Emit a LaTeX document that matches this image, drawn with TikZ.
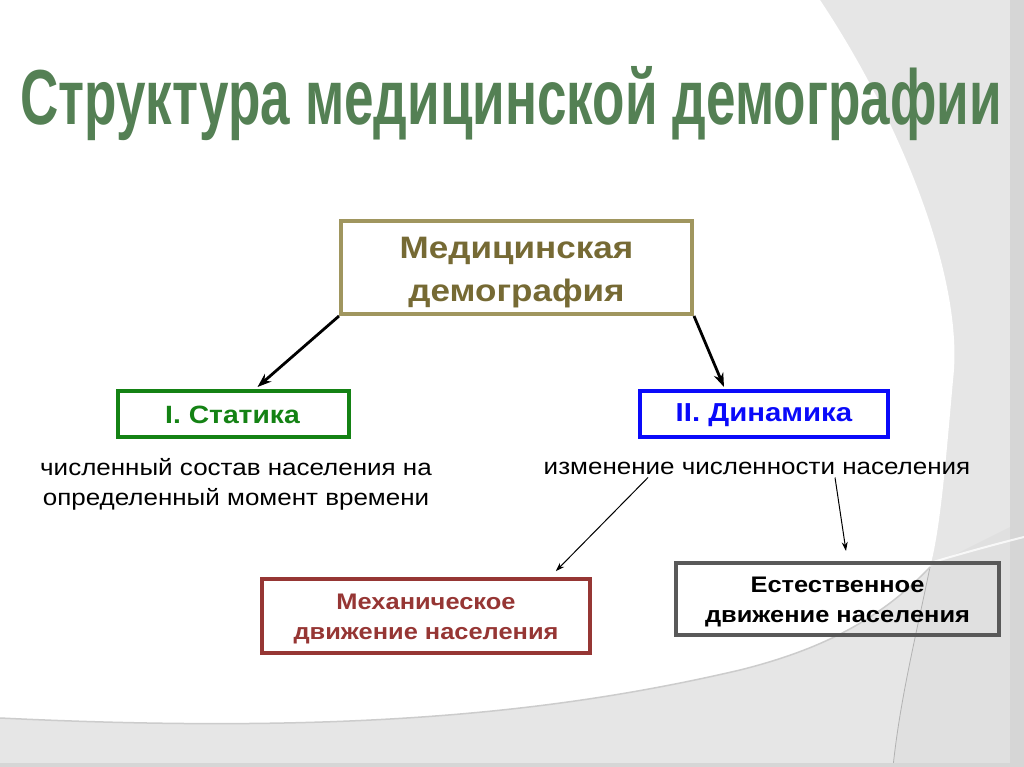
\documentclass[tikz,border=0pt]{standalone}
\usepackage{fontspec}
\setmainfont{Liberation Sans}[FakeStretch=1.13]
\newfontfamily\titlefont{Liberation Sans}
\usetikzlibrary{arrows.meta,calc}
\definecolor{olivebd}{RGB}{160,150,95}
\definecolor{olivetx}{RGB}{118,106,52}
\definecolor{statgreen}{RGB}{20,130,20}
\definecolor{dynblue}{RGB}{10,10,250}
\definecolor{mekhred}{RGB}{150,54,52}
\definecolor{estgray}{RGB}{89,89,89}
\definecolor{titlegreen}{RGB}{84,128,84}
\definecolor{bggray}{RGB}{230,230,230}
\definecolor{bgmid}{RGB}{224,224,224}
\definecolor{bgdark}{RGB}{214,214,214}
\tikzset{
  box/.style={draw, line width=4pt, inner sep=0pt},
  boxtext/.style={align=center, inner sep=0pt},
  bigarrow/.style={-{Stealth[length=14pt,width=10pt]}, line width=2.8pt, black},
  thinarrow/.style={-{Stealth[length=9pt,width=6pt]}, line width=1pt, black},
  desc/.style={align=center, inner sep=0pt, font=\fontsize{23}{30}\selectfont}
}
\begin{document}
\begin{tikzpicture}[x=1pt,y=-1pt]
\useasboundingbox (0,0) rectangle (1024,767);
% background
\fill[bggray] (0,0) rectangle (1024,767);
\fill[bgmid] (930,567) .. controls (915,640) and (900,700) .. (893,767) -- (1024,767) -- (1024,520) -- cycle;
\fill[bgdark] (1010,0) rectangle (1024,767);
\fill[white] (0,0) -- (820,0) .. controls (900,120) and (965,280) .. (953,380)
  .. controls (945,470) and (940,530) .. (930,567)
  .. controls (880,620) and (820,650) .. (740,670)
  .. controls (560,712) and (350,735) .. (0,718) -- cycle;
\draw[gray!60, line width=0.8pt] (930,567) .. controls (915,640) and (900,700) .. (893,767);
\draw[white, line width=2pt, opacity=0.8] (853,587) .. controls (920,565) and (980,548) .. (1024,537);
\draw[gray!40, line width=1.5pt] (0,718) .. controls (350,735) and (560,712) .. (740,670)
  .. controls (820,650) and (880,620) .. (930,567);
\fill[bgdark] (0,763) rectangle (1024,767);
% title
\node[text=titlegreen, anchor=center] (title) at (511,104) {\scalebox{0.68}[1]{\titlefont\fontsize{78}{80}\selectfont\bfseries Структура медицинской демографии}};
% boxes
\node[box, draw=olivebd, minimum width=351pt, minimum height=93pt] (top) at (516.5,267.5) {};
\node[boxtext, text=olivetx, font=\fontsize{31}{43}\selectfont\bfseries] (toptext) at ([yshift=-5pt]top.center) {Медицинская\\демография};
\node[box, draw=statgreen, minimum width=231pt, minimum height=46pt] (stat) at (233.5,414) {};
\node[boxtext, text=statgreen, font=\fontsize{25}{30}\selectfont\bfseries] (stattext) at ([xshift=-1pt,yshift=-1pt]stat.center) {I. Статика};
\node[box, draw=dynblue, minimum width=248pt, minimum height=46pt] (dyn) at (764,414) {};
\node[boxtext, text=dynblue, font=\fontsize{26}{30}\selectfont\bfseries] (dyntext) at ([yshift=-1pt]dyn.center) {II. Динамика};
\node[desc] (statdesc) at (236,484) {численный состав населения на\\определенный момент времени};
\node[desc] (dyndesc) at (757,468) {изменение численности населения};
\node[box, draw=mekhred, minimum width=328pt, minimum height=74pt, line width=3.5pt] (mekh) at (426,616) {};
\node[boxtext, text=mekhred, font=\fontsize{22.5}{30}\selectfont\bfseries] (mekhtext) at ([yshift=-3pt]mekh.center) {Механическое\\движение населения};
\node[box, draw=estgray, minimum width=323pt, minimum height=72pt] (est) at (837.5,599) {};
\node[boxtext, text=black, font=\fontsize{22.5}{30}\selectfont\bfseries] (esttext) at ([yshift=-3pt]est.center) {Естественное\\движение населения};
% connectors
\draw[bigarrow] (top.south west) -- ([xshift=24pt,yshift=2pt]stat.north);
\draw[bigarrow] (top.south east) -- ([xshift=-40pt,yshift=2pt]dyn.north);
\draw[thinarrow] ([xshift=-109pt,yshift=-3pt]dyndesc.south) -- ([xshift=-36pt,yshift=6pt]mekh.north east);
\draw[thinarrow] ([xshift=78pt,yshift=-3pt]dyndesc.south) -- ([xshift=8.5pt,yshift=10pt]est.north);
\end{tikzpicture}
\end{document}
